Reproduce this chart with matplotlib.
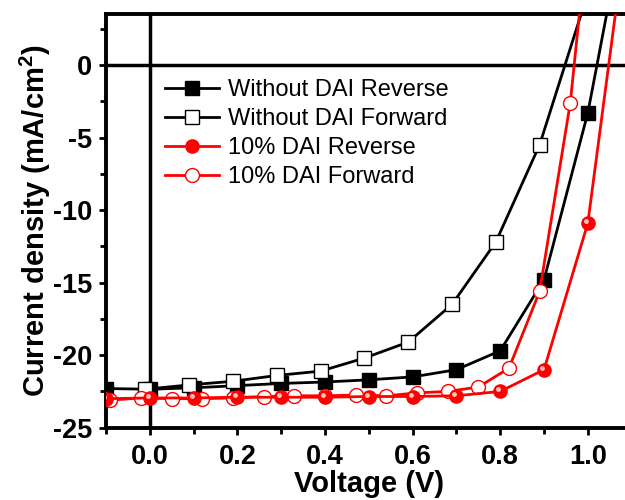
import matplotlib
matplotlib.use("Agg")
import matplotlib.pyplot as plt
from matplotlib.transforms import offset_copy
from matplotlib.ticker import MultipleLocator

# данные J-V (читаются с картинки)
v_rev = [-0.1, 0.0, 0.1, 0.2, 0.3, 0.4, 0.5, 0.6, 0.7, 0.8, 0.9, 1.0, 1.1]
j_wo_rev = [-22.3, -22.35, -22.25, -22.1, -21.95, -21.85, -21.7, -21.5, -21.0, -19.7, -14.8, -3.3, 12.5]
j_dai_rev = [-23.0, -22.95, -22.95, -22.9, -22.9, -22.9, -22.85, -22.85, -22.8, -22.5, -21.0, -10.9, 12.0]

v_wo_fwd = [-0.01, 0.09, 0.19, 0.29, 0.39, 0.49, 0.59, 0.69, 0.79, 0.89, 0.99]
j_wo_fwd = [-22.35, -22.05, -21.8, -21.4, -21.1, -20.2, -19.1, -16.5, -12.2, -5.5, 4.0]

v_dai_fwd = [-0.09, -0.02, 0.05, 0.12, 0.19, 0.26, 0.33, 0.40, 0.47, 0.54, 0.61, 0.68, 0.75, 0.82, 0.89, 0.96, 1.03]
j_dai_fwd = [-23.1, -22.95, -23.0, -23.0, -22.95, -22.85, -22.8, -22.8, -22.75, -22.8, -22.6, -22.5, -22.2, -20.9, -15.6, -2.6, 18.0]

labels = ['Without DAI Reverse', 'Without DAI Forward', '10% DAI Reverse', '10% DAI Forward']

plt.rcParams['font.family'] = ['Liberation Sans', 'DejaVu Sans']
plt.rcParams['mathtext.default'] = 'regular'
plt.rcParams['axes.unicode_minus'] = False

fig = plt.figure(figsize=(6.25, 5), dpi=100)
ax = fig.add_axes([0.1696, 0.1446, 0.841, 0.827])

ms = 9.5
lw = 2.0
ax.plot(v_rev, j_wo_rev, color='black', lw=lw, marker='s', ms=ms,
        mfc='black', mec='black', label=labels[0])
ax.plot(v_wo_fwd, j_wo_fwd, color='black', lw=lw, marker='s', ms=ms,
        mfc='white', mec='black', mew=1.0, label=labels[1])
ax.plot(v_rev, j_dai_rev, color='red', lw=lw, marker='o', ms=ms,
        mfc='red', mec='red', label=labels[2], zorder=4)
# блик на шариках
ax.plot(v_rev, j_dai_rev, ls='none', marker='o', ms=3.5, mfc='#ffc0c0', mec='none',
        transform=offset_copy(ax.transData, fig=fig, x=-2, y=2, units='dots'), zorder=5)
ax.plot(v_dai_fwd, j_dai_fwd, color='red', lw=lw, marker='o', ms=10,
        mfc='white', mec='red', mew=1.0, label=labels[3], zorder=3)

ax.axhline(0, color='black', lw=2.5, zorder=1)
ax.axvline(0, color='black', lw=2.5, zorder=1)

ax.set_xlim(-0.1, 1.1)
ax.set_ylim(-25, 3.5)
ax.xaxis.set_minor_locator(MultipleLocator(0.1))
ax.yaxis.set_major_locator(MultipleLocator(5))
ax.yaxis.set_minor_locator(MultipleLocator(2.5))
ax.set_xticks([0.0, 0.2, 0.4, 0.6, 0.8, 1.0])
ax.set_xticklabels(['0.0', '0.2', '0.4', '0.6', '0.8', '1.0'])

for s in ax.spines.values():
    s.set_linewidth(2.8)
ax.spines['right'].set_visible(False)

ax.tick_params(which='both', direction='out', width=2, labelsize=19.5, top=False, right=False)
ax.tick_params(which='major', length=5)
ax.tick_params(which='minor', length=4)
ax.tick_params(axis='x', pad=7)
ax.tick_params(axis='y', pad=5)
for t in ax.get_xticklabels() + ax.get_yticklabels():
    t.set_fontweight('bold')

ax.set_xlabel('Voltage (V)', fontsize=21, fontweight='bold', labelpad=0)
ax.set_ylabel('Current density (mA/cm$^2$)', fontsize=21, fontweight='bold', labelpad=0)

ax.legend(loc='upper left', bbox_to_anchor=(0.264, 0.842), bbox_transform=fig.transFigure,
          frameon=False, fontsize=17, handlelength=2.3, handletextpad=0.35,
          labelspacing=0.3, borderpad=0, borderaxespad=0)

fig.savefig('out.png', dpi=100)
